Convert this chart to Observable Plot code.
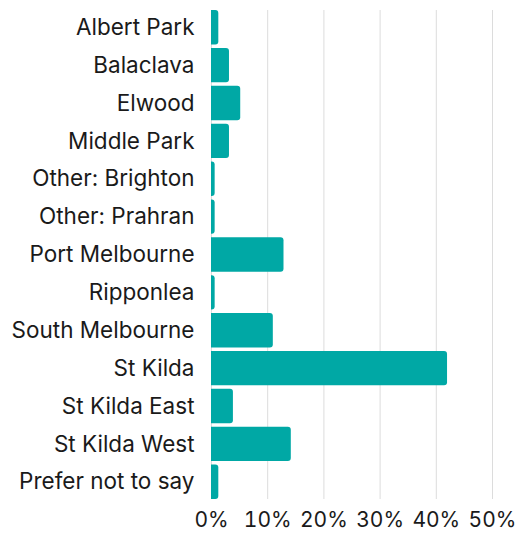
<!DOCTYPE html>
<html>
<head>
<meta charset="utf-8">
<script src="https://cdn.jsdelivr.net/npm/d3@7"></script>
<script src="https://cdn.jsdelivr.net/npm/@observablehq/plot@0.6"></script>
<style>
  html, body { margin: 0; padding: 0; background: #fff; }
  #chart svg { display: block; }
</style>
</head>
<body>
<div id="chart"></div>
<script>
const suburbs = ["Albert Park", "Balaclava", "Elwood", "Middle Park", "Other: Brighton", "Other: Prahran", "Port Melbourne", "Ripponlea", "South Melbourne", "St Kilda", "St Kilda East", "St Kilda West", "Prefer not to say"];
const shares = [1.3, 3.2, 5.2, 3.2, 0.65, 0.65, 12.9, 0.65, 11.0, 42.0, 3.9, 14.2, 1.3];
const xTicks = [0, 10, 20, 30, 40, 50];

const data = suburbs.map((s, i) => ({suburb: s, share: shares[i]}));
const teal = "#00A8A5";

const chart = Plot.plot({
  width: 516,
  height: 537,
  marginLeft: 211,
  marginRight: 24,
  marginTop: 10,
  marginBottom: 38,
  style: {fontFamily: "Inter, sans-serif", fontSize: "22px", color: "#1a1a1a", background: "#fff", overflow: "visible"},
  x: {domain: [0, 50], ticks: xTicks, tickFormat: d => d + "%"},
  y: {domain: suburbs, paddingInner: 0.09, paddingOuter: 0, round: false, label: null},
  marks: [
    Plot.gridX(xTicks, {stroke: "#dcdcdc", strokeOpacity: 1, strokeWidth: 1}),
    // bar starts just left of 0 and is clipped at the frame, so only the right corners are rounded
    Plot.barX(data, {y: "suburb", x1: -1, x2: "share", fill: teal, rx: 3, clip: true}),
    Plot.axisX(xTicks, {tickSize: 0, tickPadding: 13, fontSize: 21, tickFormat: d => d + "%", label: null}),
    Plot.axisY({tickSize: 0, tickPadding: 17, fontSize: 22.5, label: null})
  ]
});
document.getElementById("chart").appendChild(chart);
</script>
</body>
</html>
